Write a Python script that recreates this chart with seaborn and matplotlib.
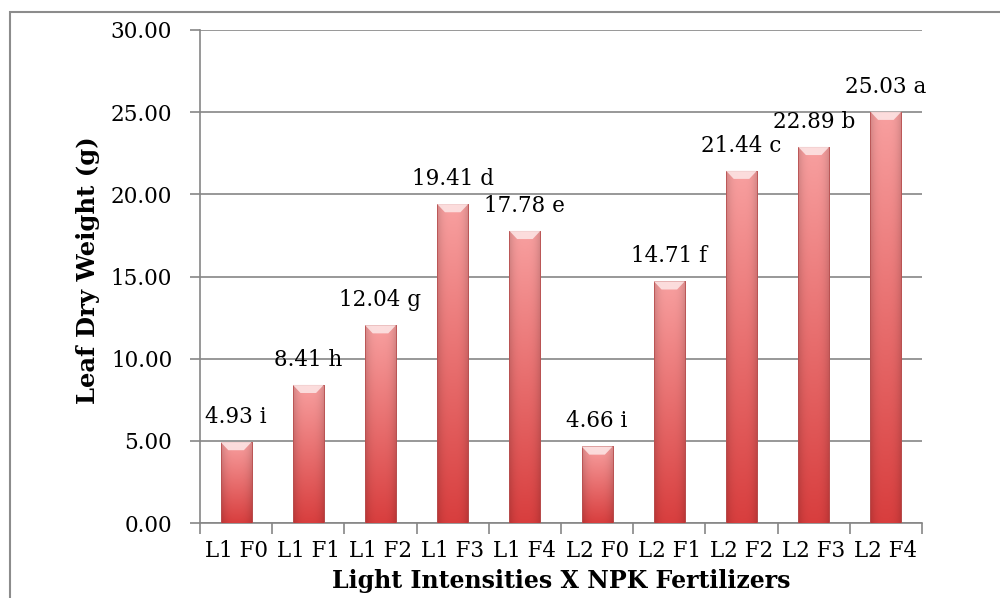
import numpy as np
import pandas as pd
import matplotlib
matplotlib.use("Agg")
import matplotlib.pyplot as plt
from matplotlib.patches import Rectangle, Polygon
import seaborn as sns

# Leaf dry weight per treatment (light intensity x NPK fertilizer level)
treatments = ["L1 F0", "L1 F1", "L1 F2", "L1 F3", "L1 F4",
              "L2 F0", "L2 F1", "L2 F2", "L2 F3", "L2 F4"]
dry_weight = [4.93, 8.41, 12.04, 19.41, 17.78, 4.66, 14.71, 21.44, 22.89, 25.03]
groups = ["i", "h", "g", "d", "e", "i", "f", "c", "b", "a"]
y_ticks = [0, 5, 10, 15, 20, 25, 30]

sns.set_theme(style="white")
plt.rcParams["font.family"] = ["DejaVu Serif"]
plt.rcParams["text.color"] = "black"
plt.rcParams["xtick.labelcolor"] = "black"
plt.rcParams["ytick.labelcolor"] = "black"

GRAY = "#868686"
W, H = 1000, 598
fig = plt.figure(figsize=(W / 100, H / 100), dpi=100)
ax = fig.add_axes([200 / W, 1 - 523 / H, 722 / W, 493 / H])

df = pd.DataFrame({"treatment": treatments, "weight": dry_weight})
sns.barplot(data=df, x="treatment", y="weight", color="#de5a5a",
            width=0.43, saturation=1, ax=ax, zorder=3)

ax.set_xlim(-0.5, len(treatments) - 0.5)
ax.set_ylim(0, 30)


def bar_gradient(n_rows=200, n_cols=60):
    """Cylinder-like shading: light pink on top fading to red at the base,
    with darker sides."""
    top = np.array([248, 160, 160]) / 255
    bottom = np.array([216, 62, 62]) / 255
    t = np.linspace(0, 1, n_rows)[:, None, None]
    base = top * (1 - t) + bottom * t
    u = np.linspace(-1, 1, n_cols)[None, :, None]
    shade = 1 - 0.16 * np.abs(u) ** 3
    img = np.clip(base * shade, 0, 1)
    return img


grad = bar_gradient()
for patch in ax.patches:
    x0 = patch.get_x()
    w = patch.get_width()
    h = patch.get_height()
    patch.set_facecolor("none")
    patch.set_edgecolor("#b85050")
    patch.set_linewidth(0.6)
    im = ax.imshow(grad, extent=(x0, x0 + w, 0, h), origin="upper",
                   aspect="auto", zorder=2.9, interpolation="bilinear")
    im.set_clip_path(patch)
    # light bevel at the top of each bar
    d = 0.5
    bevel = Polygon([(x0, h), (x0 + w, h), (x0 + w * 0.75, h - d),
                     (x0 + w * 0.25, h - d)], closed=True,
                    facecolor="#fde8e8", edgecolor="none", alpha=0.85,
                    zorder=3.1)
    ax.add_patch(bevel)

ax.set_xlim(-0.5, len(treatments) - 0.5)
ax.set_ylim(0, 30)

# value labels with mean separation letters
for i, (v, g) in enumerate(zip(dry_weight, groups)):
    ax.annotate(f"{v:.2f} {g}", xy=(i, v), xytext=(0, 18),
                textcoords="offset points", ha="center", va="center",
                fontsize=15.5, color="black", zorder=5)

# axes styling
ax.set_yticks(y_ticks)
ax.set_yticklabels([f"{v:.2f}" for v in y_ticks])
ax.set_xticks(range(len(treatments)))
ax.set_xticklabels(treatments)
ax.set_xticks(np.arange(-0.5, len(treatments), 1), minor=True)
ax.tick_params(axis="y", length=7, width=1.2, color=GRAY, direction="out",
               labelsize=15.5, pad=13, left=True, labelcolor="black")
ax.tick_params(axis="x", which="major", length=0, labelsize=15.5, pad=12,
               labelcolor="black")
ax.tick_params(axis="x", which="minor", length=8, width=1.2, color=GRAY,
               direction="out", bottom=True)
ax.yaxis.grid(True, color=GRAY, linewidth=1.2)
ax.set_axisbelow(True)
for side in ("top", "right"):
    ax.spines[side].set_visible(False)
for side in ("left", "bottom"):
    ax.spines[side].set_color(GRAY)
    ax.spines[side].set_linewidth(1.2)
ax.set_xlabel("")
ax.set_ylabel("")

fig.text(88 / W, 1 - 270 / H, "Leaf Dry Weight (g)", rotation=90,
         ha="center", va="center", fontsize=17.5, fontweight="bold",
         color="black")
fig.text(561 / W, 1 - 588 / H, "Light Intensities X NPK Fertilizers",
         ha="center", va="baseline", fontsize=17, fontweight="bold",
         color="black")

# chart frame
fig.add_artist(Rectangle((10 / W, -0.1), 1.2, (H - 12) / H + 0.1,
                         transform=fig.transFigure, fill=False,
                         edgecolor="#8c8c8c", linewidth=1.5))

fig.savefig("out.png", dpi=100)
